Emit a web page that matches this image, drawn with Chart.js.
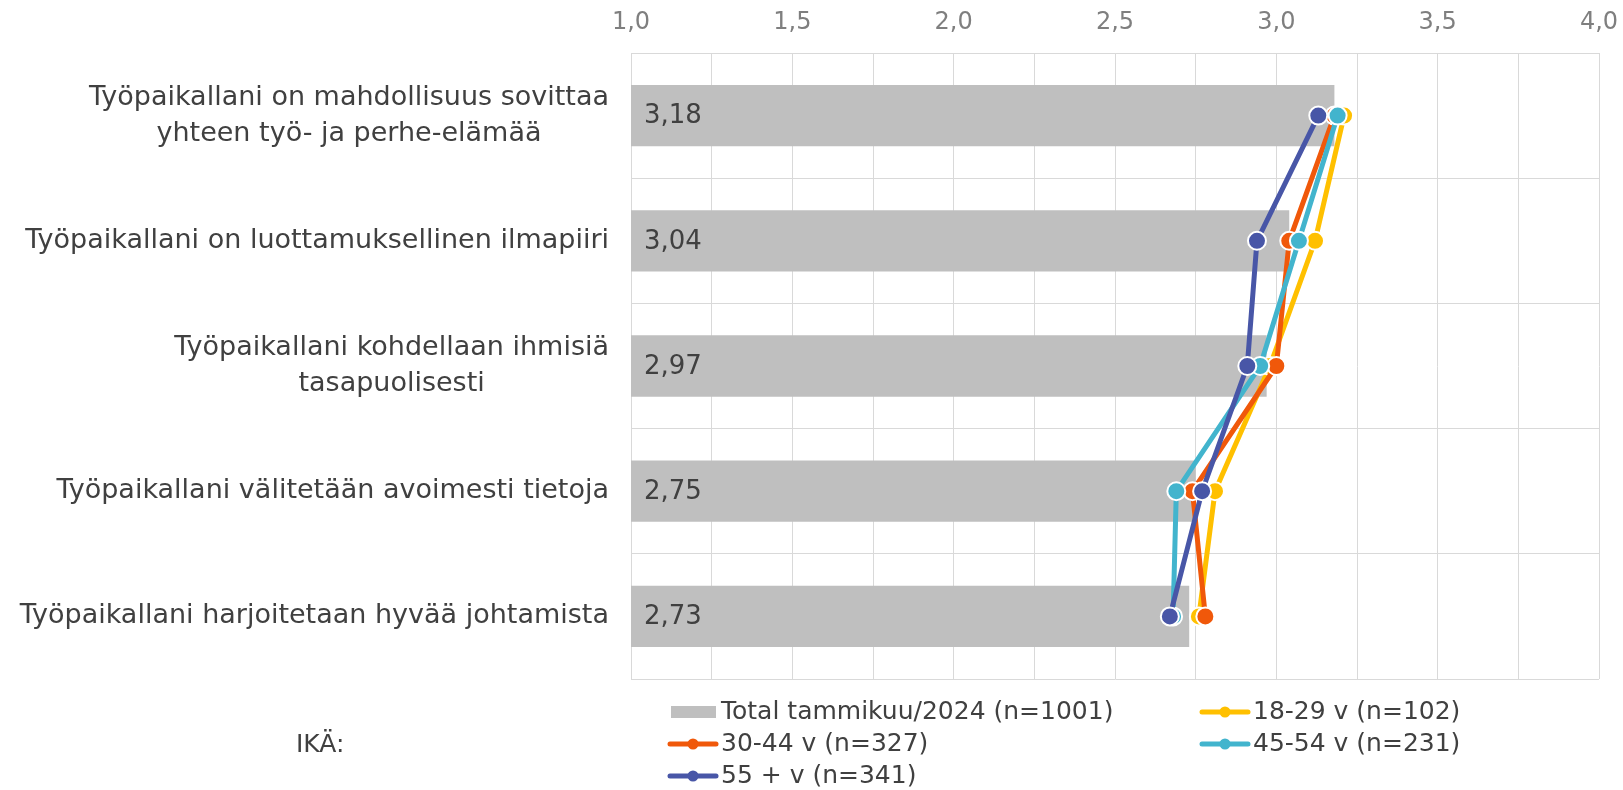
<!DOCTYPE html>
<html>
<head>
<meta charset="utf-8">
<script src="https://cdn.jsdelivr.net/npm/chart.js@4.4.1/dist/chart.umd.min.js"></script>
<style>
  body { margin: 0; background: #ffffff; }
  #wrap { width: 1623px; height: 790px; position: relative; }
</style>
</head>
<body>
<div id="wrap"><canvas id="myChart_1"></canvas></div>
<script>
const categories = [
    ["Työpaikallani on mahdollisuus sovittaa", "yhteen työ- ja perhe-elämää"],
    ["Työpaikallani on luottamuksellinen ilmapiiri"],
    ["Työpaikallani kohdellaan ihmisiä", "tasapuolisesti"],
    ["Työpaikallani välitetään avoimesti tietoja"],
    ["Työpaikallani harjoitetaan hyvää johtamista"]
];
const total_values = [3.18, 3.04, 2.97, 2.75, 2.73];
const age_18_29 = [3.21, 3.12, 2.98, 2.81, 2.76];
const age_30_44 = [3.18, 3.04, 3.00, 2.74, 2.78];
const age_45_54 = [3.19, 3.07, 2.95, 2.69, 2.68];
const age_55_plus = [3.13, 2.94, 2.91, 2.77, 2.67];
const tick_values = [1.0, 1.5, 2.0, 2.5, 3.0, 3.5, 4.0];
const legend_title = "IKÄ:";

const FONT = "'DejaVu Sans', Verdana, sans-serif";
const TEXT_COLOR = '#404040';

function fmt(v, digits) {
    return v.toFixed(digits).replace('.', ',');
}

function lineSet(label, data, color, order) {
    return {
        type: 'line',
        label: label,
        data: data,
        order: order,
        borderColor: color,
        backgroundColor: color,
        borderWidth: 5,
        tension: 0,
        pointRadius: 9,
        pointBorderWidth: 2,
        pointBorderColor: '#ffffff',
        pointBackgroundColor: color
    };
}

// category labels, bar values and legend are drawn here
const extras = {
    id: 'extras',
    afterDatasetsDraw(chart) {
        const ctx = chart.ctx;
        const yScale = chart.scales.y;
        const area = chart.chartArea;
        ctx.save();
        ctx.fillStyle = TEXT_COLOR;
        ctx.textBaseline = 'middle';

        // values inside the gray bars
        ctx.font = '26px ' + FONT;
        ctx.textAlign = 'left';
        chart.data.datasets[0].data.forEach((v, i) => {
            ctx.fillText(fmt(v, 2), area.left + 13, yScale.getPixelForValue(i) + 1);
        });

        // category labels: block right aligned, lines centered
        ctx.font = '27px ' + FONT;
        ctx.textAlign = 'center';
        const lineH = 36;
        categories.forEach((lines, i) => {
            const widest = Math.max(...lines.map(t => ctx.measureText(t).width));
            const cx = 609 - widest / 2;
            const cy = yScale.getPixelForValue(i);
            lines.forEach((t, k) => {
                ctx.fillText(t, cx, cy + (k - (lines.length - 1) / 2) * lineH);
            });
        });

        // legend
        ctx.font = '25px ' + FONT;
        ctx.textAlign = 'left';
        ctx.fillText(legend_title, 296, 745);
        const slots = [[668, 712], [1200, 712], [668, 744], [1200, 744], [668, 776]];
        chart.data.datasets.forEach((ds, i) => {
            const [x, y] = slots[i];
            if (ds.type === 'line') {
                ctx.strokeStyle = ds.borderColor;
                ctx.lineWidth = 5;
                ctx.lineCap = 'round';
                ctx.beginPath();
                ctx.moveTo(x + 2, y);
                ctx.lineTo(x + 48, y);
                ctx.stroke();
                ctx.fillStyle = ds.borderColor;
                ctx.beginPath();
                ctx.arc(x + 25, y, 5.5, 0, Math.PI * 2);
                ctx.fill();
            } else {
                ctx.fillStyle = ds.backgroundColor;
                ctx.fillRect(x + 3, y - 6, 45, 12);
            }
            ctx.fillStyle = TEXT_COLOR;
            ctx.fillText(ds.label, x + 53, y);
        });
        ctx.restore();
    }
};

const ctx = document.getElementById('myChart_1').getContext('2d');
const myChart = new Chart(ctx, {
    type: 'bar',
    data: {
        labels: categories,
        datasets: [
            {
                label: 'Total tammikuu/2024 (n=1001)',
                data: total_values,
                backgroundColor: '#bfbfbf',
                order: 10,
                barPercentage: 0.49,
                categoryPercentage: 1
            },
            lineSet('18-29 v (n=102)', age_18_29, '#ffc000', 4),
            lineSet('30-44 v (n=327)', age_30_44, '#f0580a', 3),
            lineSet('45-54 v (n=231)', age_45_54, '#42b4cd', 2),
            lineSet('55 + v (n=341)', age_55_plus, '#4856a7', 1)
        ]
    },
    options: {
        indexAxis: 'y',
        responsive: true,
        maintainAspectRatio: false,
        animation: false,
        layout: { padding: { top: 0, right: 0, bottom: 111, left: 0 } },
        plugins: {
            legend: { display: false },
            tooltip: { enabled: false }
        },
        scales: {
            x: {
                position: 'top',
                min: 1,
                max: 4,
                afterFit: (scale) => {
                    scale.height = 53;
                    scale.paddingRight = 24;
                },
                afterBuildTicks: (scale) => {
                    const t = [];
                    for (let v = 1; v <= 4.0001; v += 0.25) t.push({ value: Math.round(v * 100) / 100 });
                    scale.ticks = t;
                },
                ticks: {
                    autoSkip: false,
                    maxRotation: 0,
                    padding: 16,
                    color: '#7f7f7f',
                    font: { family: FONT, size: 24 },
                    callback: (v) => tick_values.includes(v) ? fmt(v, 1) : ''
                },
                grid: { color: '#d9d9d9', lineWidth: 1, drawTicks: false },
                border: { color: '#d9d9d9' }
            },
            y: {
                afterFit: (scale) => { scale.width = 631; },
                ticks: { display: false },
                grid: { color: '#d9d9d9', lineWidth: 1, drawTicks: false, offset: true },
                border: { color: '#d9d9d9' }
            }
        }
    },
    plugins: [extras]
});
</script>
</body>
</html>
